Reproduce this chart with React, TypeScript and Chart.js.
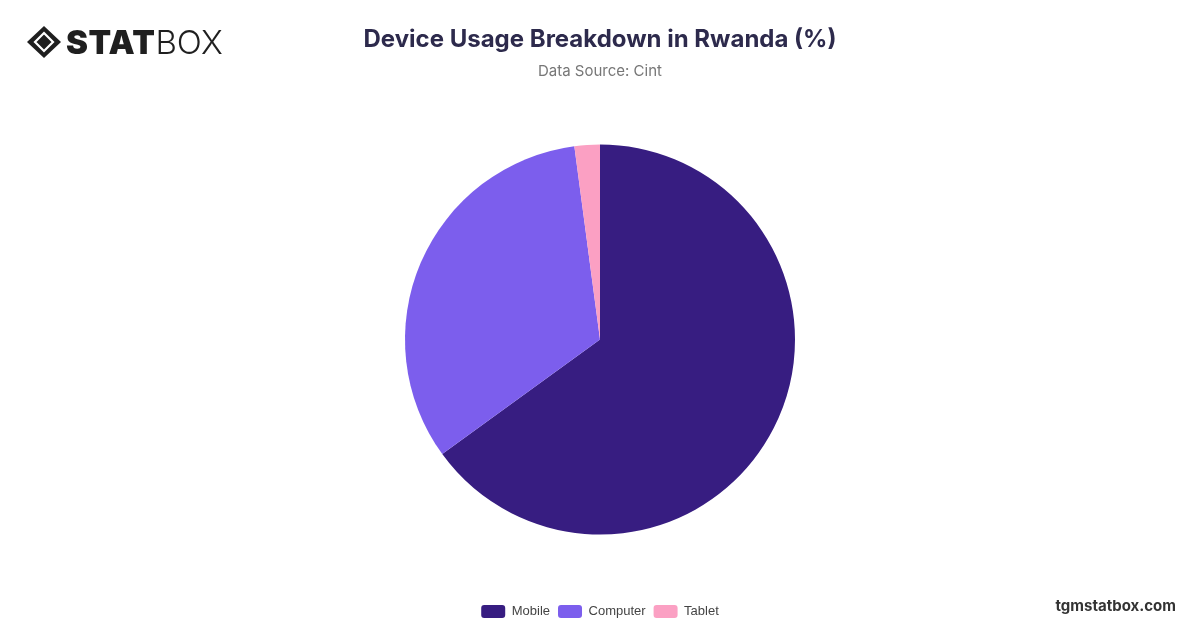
import React, { useEffect, useRef } from 'react';
import Chart from 'chart.js/auto';

// Data
const categories = ['Mobile', 'Computer', 'Tablet'];
const shares = [65, 32.9, 2.1];
const sliceColors = ['#371d81', '#7c5eed', '#fba0c3'];

const Logo: React.FC = () => (
    <div style={{ position: 'absolute', left: 26, top: 22, display: 'flex', alignItems: 'center' }}>
        <svg width="36" height="34" viewBox="0 0 36 34">
            <path d="M18 1 L35 17 L18 33 L1 17 Z" fill="#1f1f1f" />
            <path d="M18 8 L27 17 L18 26 L9 17 Z" fill="none" stroke="#fff" strokeWidth="2.2" />
        </svg>
        <span style={{ fontFamily: 'Inter, sans-serif', fontWeight: 900, fontSize: 33, color: '#1f1f1f', marginLeft: 4, letterSpacing: 0.5 }}>
            STAT
        </span>
        <span style={{ fontFamily: 'Inter, sans-serif', fontWeight: 300, fontSize: 33, color: '#1f1f1f' }}>BOX</span>
    </div>
);

const PieChart: React.FC = () => {
    const canvasRef = useRef<HTMLCanvasElement>(null);

    useEffect(() => {
        if (!canvasRef.current) return;
        const chart = new Chart(canvasRef.current, {
            type: 'pie',
            data: {
                labels: categories,
                datasets: [
                    {
                        data: shares,
                        backgroundColor: sliceColors,
                        borderWidth: 0,
                        radius: 195,
                    },
                ],
            },
            options: {
                responsive: false,
                animation: false,
                layout: { padding: { top: 82, bottom: 0 } },
                plugins: {
                    legend: {
                        position: 'bottom',
                        labels: {
                            boxWidth: 24,
                            boxHeight: 13,
                            useBorderRadius: true,
                            borderRadius: 3,
                            padding: 8,
                            color: '#444',
                            font: { family: '"Liberation Sans", Arial, sans-serif', size: 13 },
                        },
                    },
                    tooltip: { enabled: false },
                },
            },
        });
        return () => chart.destroy();
    }, []);

    return <canvas ref={canvasRef} width={1200} height={628} style={{ position: 'absolute', left: 0, top: 0 }} />;
};

export default function App() {
    return (
        <div style={{ position: 'fixed', inset: 0, width: 1200, height: 628, background: '#fff', overflow: 'hidden' }}>
            <PieChart />
            <Logo />
            <div
                style={{
                    position: 'absolute',
                    left: 0,
                    width: 1200,
                    top: 24,
                    textAlign: 'center',
                    fontFamily: 'Inter, sans-serif',
                    fontWeight: 700,
                    fontSize: 24,
                    color: '#2d2a4c',
                }}
            >
                Device Usage Breakdown in Rwanda (%)
            </div>
            <div
                style={{
                    position: 'absolute',
                    left: 0,
                    width: 1200,
                    top: 61,
                    textAlign: 'center',
                    fontFamily: 'Inter, sans-serif',
                    fontSize: 15,
                    color: '#777',
                }}
            >
                Data Source: Cint
            </div>
            <div
                style={{
                    position: 'absolute',
                    right: 24,
                    top: 596,
                    fontFamily: 'Inter, sans-serif',
                    fontWeight: 700,
                    fontSize: 15,
                    color: '#333',
                }}
            >
                tgmstatbox.com
            </div>
        </div>
    );
}
